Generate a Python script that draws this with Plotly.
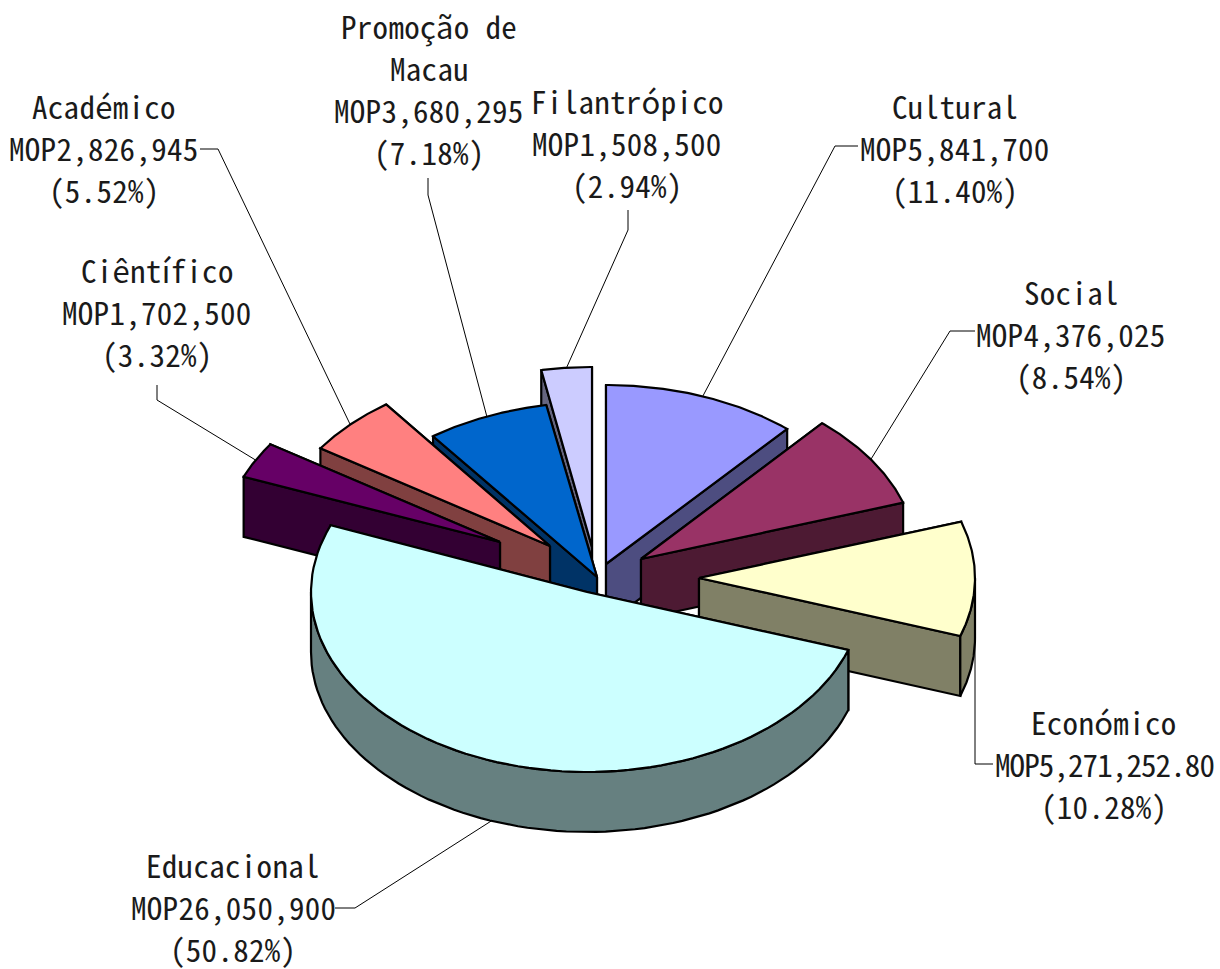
import numpy as np
import plotly.graph_objects as go

# ---- data (clockwise from 12 o'clock) ----
categories = ["Cultural", "Social", "Económico", "Educacional",
              "Ciêntífico", "Académico", "Promoção de|Macau", "Filantrópico"]
amounts = [5841700, 4376025, 5271252.80, 26050900, 1702500, 2826945, 3680295, 1508500]
amount_labels = ["MOP5,841,700", "MOP4,376,025", "MOP5,271,252.80", "MOP26,050,900",
                 "MOP1,702,500", "MOP2,826,945", "MOP3,680,295", "MOP1,508,500"]
percent_labels = ["(11.40%)", "(8.54%)", "(10.28%)", "(50.82%)",
                  "(3.32%)", "(5.52%)", "(7.18%)", "(2.94%)"]

# ---- styling / layout ----
top_colors = ["#9999ff", "#993366", "#ffffcc", "#ccffff", "#660066", "#ff8080", "#0066cc", "#ccccff"]
wall_colors = ["#4d4d80", "#4d1a33", "#808066", "#668080", "#330033", "#804040", "#003366", "#666680"]
apex = [(606, 564), (641, 559), (699, 578), (587, 592), (500, 542), (550, 546), (597, 577), (592, 547)]
ry = [179, 180, 180, 180, 176, 176, 175, 180]
label_pos = [(955, 105), (1071, 291), (1104, 721), (233, 864), (157, 269), (104, 105), (429, 25), (627, 100)]
elbows = [[(835, 146), (858, 146)], [(950, 331), (975, 331)], [(975, 764), (993, 764)],
          [(355, 908), (335, 908)], [(157, 400), (157, 385)], [(218, 149), (200, 149)],
          [(428, 195), (428, 178)], [(628, 230), (628, 210)]]
draw_order = [7, 6, 5, 4, 0, 1, 2, 3]
RX, DEPTH = 276, 60
LINE_H = 42
FONT = "Noto Sans Mono CJK SC, Noto Sans Mono CJK JP, Liberation Mono, monospace"
SIZE = 31

fracs = np.array(amounts) / np.sum(amounts)
edges = np.concatenate([[0], np.cumsum(fracs)]) * 2 * np.pi

fig = go.Figure()


def poly(xs, ys, fill, width=2.2):
    fig.add_trace(go.Scatter(x=list(xs), y=list(ys), mode="lines", fill="toself", fillcolor=fill,
                             line=dict(color="black", width=width), hoverinfo="skip", showlegend=False))


def arc(i, a0, a1, dz=0, n=80):
    t = np.linspace(a0, a1, n)
    return apex[i][0] + RX * np.sin(t), apex[i][1] - ry[i] * np.cos(t) + dz


# leader lines go under the slices
for i in range(len(amounts)):
    mid = (edges[i] + edges[i + 1]) / 2
    sx, sy = arc(i, mid, mid, dz=DEPTH if np.cos(mid) < -0.2 else 0, n=1)
    xs = [sx[0]] + [p[0] for p in elbows[i]]
    ys = [sy[0]] + [p[1] for p in elbows[i]]
    fig.add_trace(go.Scatter(x=xs, y=ys, mode="lines", line=dict(color="black", width=1),
                             hoverinfo="skip", showlegend=False))

for i in draw_order:
    c, a0, a1 = apex[i], edges[i], edges[i + 1]
    walls = []
    for a in (a0, a1):
        ex, ey = arc(i, a, a, n=1)
        walls.append(([c[0], ex[0], ex[0], c[0], c[0]],
                      [c[1], ey[0], ey[0] + DEPTH, c[1] + DEPTH, c[1]]))
    lo, hi = max(a0, np.pi / 2), min(a1, 3 * np.pi / 2)
    if lo < hi:
        ax, ay = arc(i, lo, hi)
        walls.append((np.concatenate([ax, ax[::-1], ax[:1]]),
                      np.concatenate([ay, ay[::-1] + DEPTH, ay[:1]])))
    for wx, wy in sorted(walls, key=lambda w: np.mean(w[1])):
        poly(wx, wy, wall_colors[i])
    ax, ay = arc(i, a0, a1)
    poly(np.concatenate([[c[0]], ax, [c[0]]]), np.concatenate([[c[1]], ay, [c[1]]]), top_colors[i])

for i in range(len(amounts)):
    lines = categories[i].split("|") + [amount_labels[i], percent_labels[i]]
    cx, y0 = label_pos[i]
    for k, txt in enumerate(lines):
        sp = -0.9 if len(txt) == 15 else 0.3
        fig.add_annotation(x=cx, y=y0 + k * LINE_H,
                           text=f'<span style="letter-spacing:{sp}px">{txt}</span>', showarrow=False,
                           xanchor="center", yanchor="middle",
                           font=dict(family=FONT, size=SIZE, color="#1a1a1a"))

fig.update_layout(width=1220, height=969, margin=dict(l=0, r=0, t=0, b=0),
                  paper_bgcolor="white", plot_bgcolor="white", showlegend=False,
                  xaxis=dict(range=[0, 1220], visible=False, fixedrange=True),
                  yaxis=dict(range=[969, 0], visible=False, fixedrange=True))
fig.write_html("out.html", config={"displayModeBar": False},
               post_script="document.body.style.margin='0';document.documentElement.style.overflow='hidden';")
